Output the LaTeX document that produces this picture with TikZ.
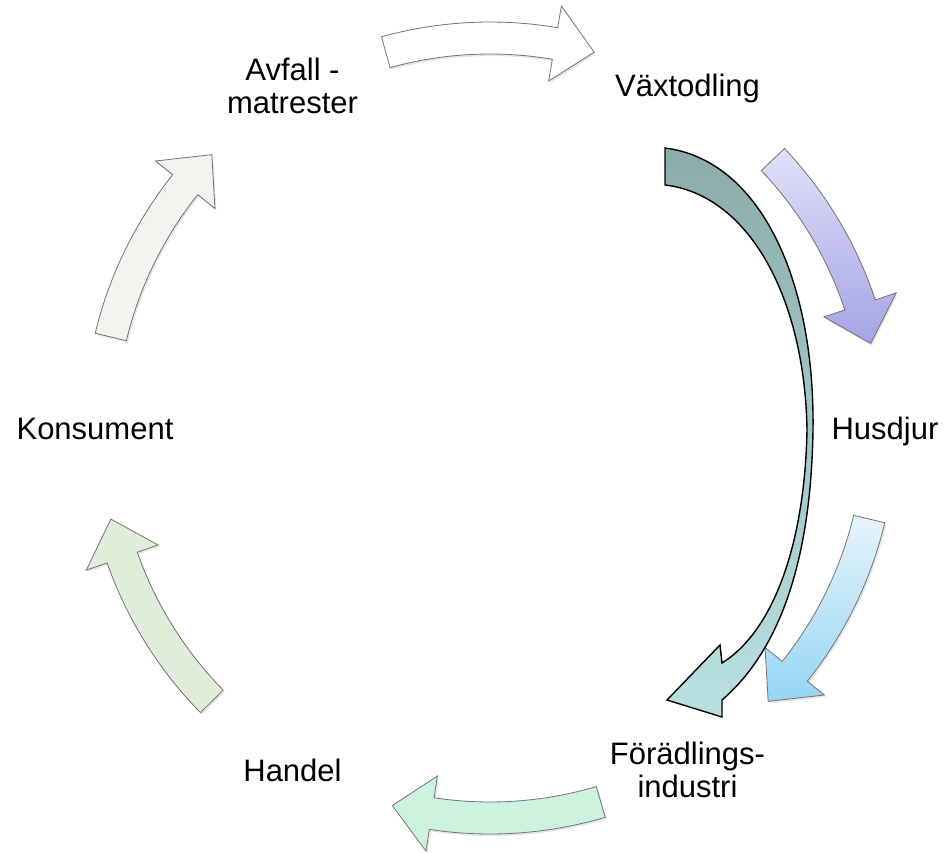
\documentclass[tikz,border=0pt]{standalone}
\usepackage{fontspec}
\setmainfont{Liberation Sans}
\usepackage{xcolor}
\usepackage{tikz}
\usetikzlibrary{shadows,fadings}
\definecolor{purplelight}{RGB}{224,224,247}
\definecolor{purpledark}{RGB}{164,164,229}
\definecolor{bluelight}{RGB}{230,244,251}
\definecolor{bluedark}{RGB}{150,213,243}
\definecolor{mint}{RGB}{205,242,222}
\definecolor{sage}{RGB}{223,238,217}
\definecolor{pale}{RGB}{243,243,239}
\definecolor{feedtop}{RGB}{140,172,171}
\definecolor{feedbottom}{RGB}{186,224,226}
\tikzset{
every picture/.style={line width=0.8pt, >=stealth, x=1pt, y=1pt},
%%%%%%%%%%  Node styles
stage/.style={inner sep=0pt, font=\fontsize{31}{33}\selectfont,
              text height=22pt, text depth=0pt},
stage_two/.style={inner sep=0pt, align=center,
              font=\fontsize{31}{33}\selectfont},
%%%%%%% Cycle arrows
cyclearrow/.style={draw=black!55, line width=0.8pt,
                   drop shadow={shadow xshift=1.5pt, shadow yshift=-2pt,
                                opacity=0.2}},
white_arrow/.style={fill=white},
purple_arrow/.style={top color=purplelight, bottom color=purpledark},
blue_arrow/.style={top color=bluelight, bottom color=bluedark},
mint_arrow/.style={fill=mint},
sage_arrow/.style={fill=sage},
pale_arrow/.style={fill=pale},
%%%%%%% the big arrow
feedarrow/.style={draw=black, line width=1.4pt, line join=miter,
                  top color=feedtop, bottom color=feedbottom}
}

\begin{document}
\begin{tikzpicture}
\useasboundingbox (-490,-424) rectangle (457,428);
%%stages
\node[stage] (vaxt) at (60:395pt) {Växtodling};
\node[stage] (husdjur) at (0:395pt) {Husdjur};
\node[stage_two] (foradl) at (-60:395pt) {Förädlings-\\industri};
\node[stage] (handel) at (-120:395pt) {Handel};
\node[stage] (konsument) at (180:395pt) {Konsument};
\node[stage_two] (avfall) at (120:395pt) {Avfall -\\matrester};
%%cycle arrows
\foreach \a/\s in {90/white_arrow, 28/purple_arrow, -29/blue_arrow,
                   -89/mint_arrow, -151/sage_arrow, 151/pale_arrow}
  \draw[cyclearrow,\s] ({\a+15.5}:374pt)
    arc[start angle={\a+15.5}, end angle={\a-9.6}, radius=374pt]
    -- ({\a-9.6}:352pt) -- ({\a-15.5}:390pt) -- ({\a-9.6}:428pt)
    -- ({\a-9.6}:406pt)
    arc[start angle={\a-9.6}, end angle={\a+15.5}, radius=406pt] -- cycle;
%%big arrow from Vaxtodling to Foradlingsindustri
\draw[feedarrow] (175,280)
  .. controls (270,268) and (325,148) .. (323,-2)
  .. controls (321,-132) and (290,-222) .. (232,-272)
  -- (232,-289) -- (177,-272) -- (230,-217) -- (232,-235)
  .. controls (285,-202) and (315,-112) .. (317,-2)
  .. controls (315,128) and (260,233) .. (175,243) -- cycle;
\end{tikzpicture}
\end{document}
